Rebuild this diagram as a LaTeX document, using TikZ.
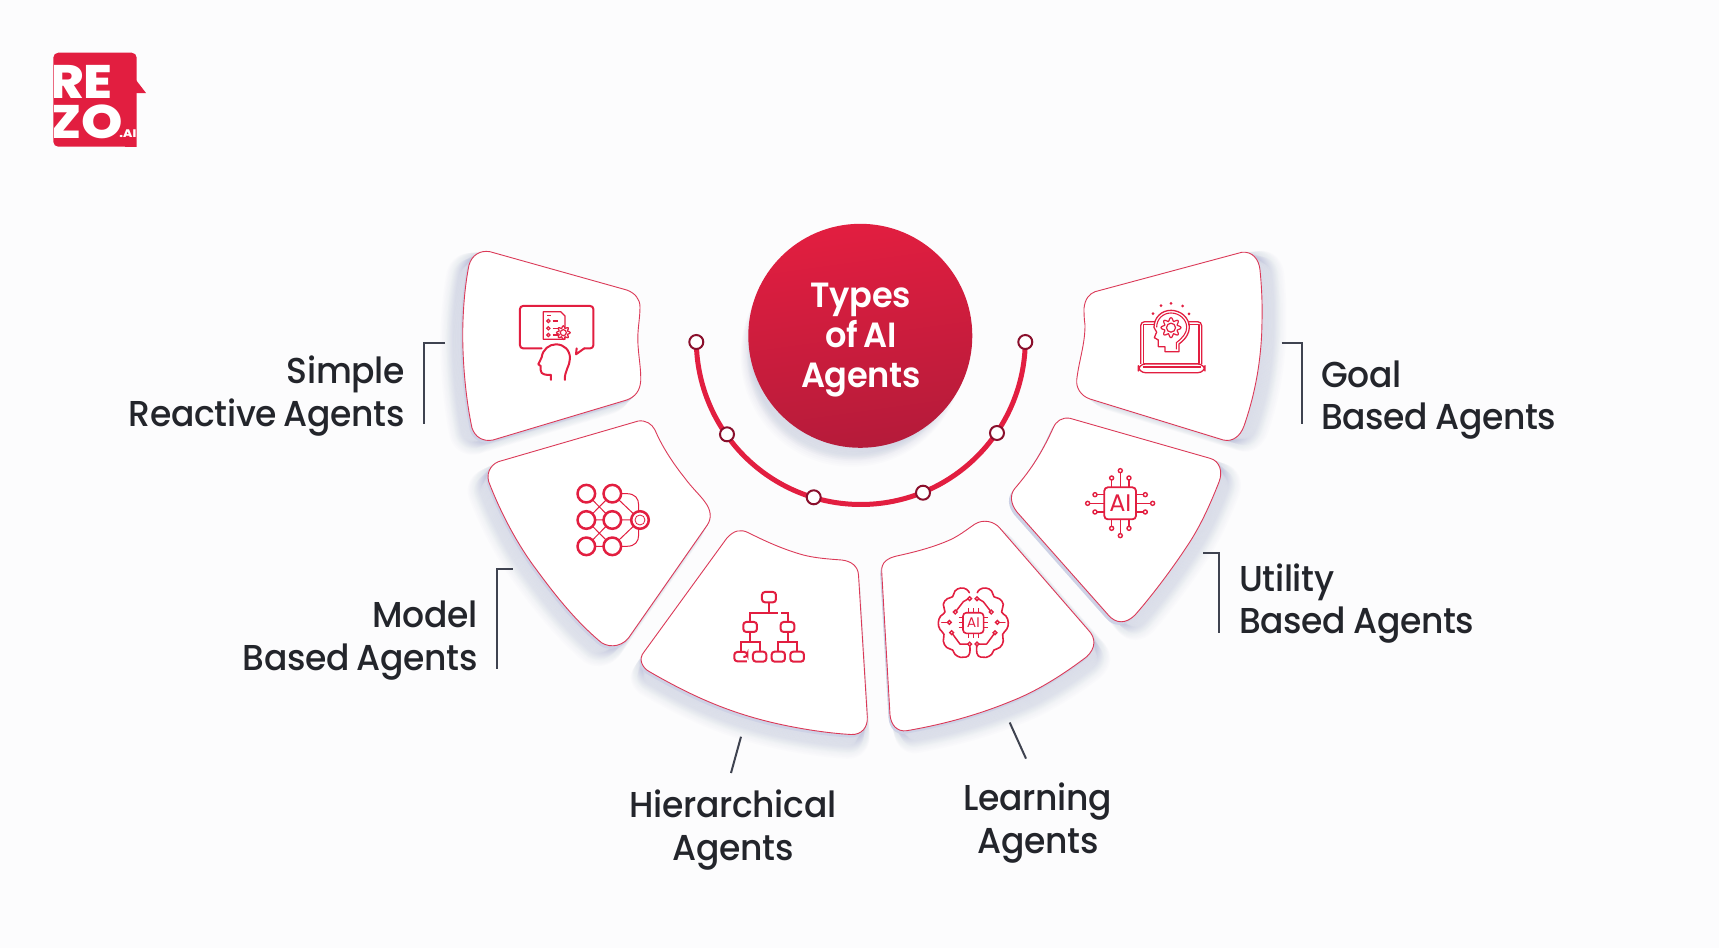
\documentclass[tikz,border=0pt]{standalone}
\usepackage{fontspec}
\setmainfont{Poppins}[UprightFont=* Medium,BoldFont=* SemiBold,FakeStretch=0.96,LetterSpace=-0.9,WordSpace=0.8]
\newfontfamily\logofont{Poppins}[UprightFont=* ExtraBold,FakeStretch=1.12]
\newfontfamily\chipfont{Poppins}
\definecolor{bgc}{HTML}{FCFCFD}
\definecolor{redc}{HTML}{E21E40}
\definecolor{hublow}{HTML}{B51B3A}
\definecolor{cardline}{HTML}{DB3A58}
\definecolor{dotline}{HTML}{8A0F2C}
\definecolor{shadowc}{HTML}{98A2C8}
\definecolor{rimc}{HTML}{CDD2E6}
\definecolor{inkc}{HTML}{23252B}
\definecolor{brc}{HTML}{3F4350}
\tikzset{
  labeltext/.style={text=inkc,font=\fontsize{36}{42.8}\selectfont,inner sep=0pt},
  bracket/.style={draw=brc,line width=2pt},
  iconline/.style={draw=redc,line width=2pt,line join=round,line cap=round},
  iconthin/.style={draw=redc,line width=1pt,line join=round},
  pin/.style={draw=redc,fill=white,line width=1.4pt},
  ringdot/.style={draw=dotline,fill=white,line width=2pt},
}
\def\cardSimple{(490,251.7) -- (626.7,290) .. controls (635,293) and (640,299) .. (640,307) .. controls (640,320) and (637,330) .. (638,345) .. controls (639,360) and (641,368) .. (640.7,381) .. controls (640,391) and (635,397) .. (626.7,400) -- (493,440) .. controls (483,442) and (475,437) .. (472,428) .. controls (466,400) and (462.7,365) .. (462.7,333) .. controls (463,308) and (465,285) .. (469,265) .. controls (472,255) and (480,250) .. (490,251.7) -- cycle}
\def\cardGoal{(1095,291.7) -- (1241.7,252.3) .. controls (1252,251) and (1259,259) .. (1260,270) .. controls (1263,300) and (1262,320) .. (1261.7,333.3) .. controls (1260,370) and (1253,400) .. (1244,426) .. controls (1240,437) and (1232,442) .. (1223.3,440) -- (1090,399) .. controls (1081,396) and (1076,388) .. (1076.7,380) .. controls (1079,360) and (1085,345) .. (1085,325) .. controls (1084,318) and (1084,313) .. (1084,308.3) .. controls (1085,299) and (1089,294) .. (1095,291.7) -- cycle}
\def\cardModel{(498.3,461.7) -- (638.3,421) .. controls (646,420) and (652,424) .. (655,430) .. controls (663,449) and (676,467) .. (684,477) .. controls (692,488) and (700,495) .. (705,502) .. controls (711,510) and (712,518) .. (707.3,525) -- (628.3,638.3) .. controls (620,648) and (606,648) .. (598.3,640) .. controls (575,620) and (555,595) .. (536.7,570) .. controls (520,548) and (503,518) .. (490,485) .. controls (485,475) and (490,465) .. (498.3,461.7) -- cycle}
\def\cardHier{(726.7,538.3) .. controls (734,530) and (741,529) .. (748.3,532.7) .. controls (765,541) and (782,549) .. (803.3,555) .. controls (815,558) and (828,559) .. (841.7,560) .. controls (851,561) and (858,566) .. (858.5,575) -- (867.3,716.7) .. controls (868,727) and (862,735) .. (851,734.5) .. controls (825,733) and (795,728) .. (770,722) .. controls (725,711) and (690,695) .. (650,672) .. controls (642,668) and (638,659) .. (644,652) -- cycle}
\def\cardLearn{(896.7,556) .. controls (915,552) and (930,548) .. (945,542) .. controls (958,537) and (966,530) .. (975,524) .. controls (983,519) and (994,521) .. (1000,528.3) -- (1088.3,630) .. controls (1096,638) and (1096,648) .. (1086.7,656.7) .. controls (1060,677) and (1035,692) .. (1010,701.7) .. controls (975,716) and (940,725) .. (906.7,730.7) .. controls (897,732) and (891,725) .. (890,715) -- (881.7,571.7) .. controls (881,562) and (888,558) .. (896.7,556) -- cycle}
\def\cardUtil{(1070,418.3) -- (1210,458.3) .. controls (1220,461) and (1223,472) .. (1219,482) .. controls (1208,510) and (1198,530) .. (1186.7,546.7) .. controls (1170,572) and (1150,598) .. (1135,615) .. controls (1126,624) and (1116,624) .. (1108.3,615) -- (1016.7,511.7) .. controls (1010,503) and (1010,494) .. (1015,488.3) .. controls (1028,473) and (1040,457) .. (1053,428.3) .. controls (1056,421) and (1062,417) .. (1070,418.3) -- cycle}
% soft shadow: layers that step away from the card in one direction and grow softer
\newcommand\softshadow[3]{\foreach \k in {1,...,14}{\begin{scope}[shift={({\k*#2/14},{\k*#3/14})}]\draw[fill=shadowc,draw=shadowc,opacity=0.022,line width={\k*0.9pt},line join=round] #1;\end{scope}}}
\newcommand\rimshadow[3]{\begin{scope}[shift={(#2,#3)}]\fill[rimc] #1;\end{scope}}
\newcommand\gearshape[5]{\draw[#5] plot[smooth cycle,samples=64,domain=0:354.375] ({#1+(#3+#4*cos(8*\x))*cos(\x)},{#2+(#3+#4*cos(8*\x))*sin(\x)});}
\begin{document}
\begin{tikzpicture}[x=1pt,y=-1pt]
\useasboundingbox (0,0) rectangle (1719,948);
\fill[bgc] (0,0) rectangle (1719,948);
% logo
\fill[redc] (136,80) -- (146,93) -- (136,93) -- cycle;
\begin{scope}
\clip[rounded corners=5pt] (53.3,146.7) -- (53.3,52.7) -- (136.7,52.7) -- (136.7,160) -- (130,160) -- (130,146.7) -- cycle;
\fill[redc] (45,45) rectangle (150,146.7);
\node[text=white,font=\logofont\fontsize{47}{47}\selectfont,inner sep=0pt,anchor=base west] (logoRE) at (49,98) {RE};
\node[text=white,font=\logofont\fontsize{47}{47}\selectfont,inner sep=0pt,anchor=base west] (logoZO) at (49,138) {ZO};
\node[text=white,font=\logofont\fontsize{11}{11}\selectfont,inner sep=0pt,anchor=base east] (logoAI) at (136.5,137) {.AI};
\end{scope}
% shadows
\softshadow{\cardSimple}{-16}{8}
\softshadow{\cardModel}{-14}{14}
\softshadow{\cardHier}{-4}{18}
\softshadow{\cardLearn}{10}{16}
\softshadow{\cardUtil}{14}{12}
\softshadow{\cardGoal}{18}{5}
\foreach \k in {1,...,14}{\begin{scope}[shift={({-\k*0.6},{\k*1.4})}]\draw[fill=shadowc,draw=shadowc,opacity=0.028,line width={\k*0.9pt}] (860.3,335.8) circle[radius=105pt];\end{scope}}
\rimshadow{\cardSimple}{-2}{2.5}
\rimshadow{\cardModel}{-1.5}{3}
\rimshadow{\cardHier}{-1.5}{3}
\rimshadow{\cardLearn}{-1.5}{3}
\rimshadow{\cardUtil}{-2.5}{3}
% cards
\foreach \c in {\cardSimple,\cardModel,\cardHier,\cardLearn,\cardUtil,\cardGoal}{\draw[cardline,fill=white,line width=0.9pt] \c;}
% arc
\draw[redc,line width=5pt] plot[smooth,domain=0:180,samples=80] ({860.8+164.5*cos(\x)},{340+164.5*sin(\x)});
\node[circle,minimum size=224pt,inner sep=0pt,top color=redc,bottom color=hublow,shading angle=8] (hub) at (860.3,335.8) {};
\node[text=white,font=\bfseries\fontsize{35}{40}\selectfont,align=center,inner sep=0pt] (hubtext) at (861,340.5) {Types\\of AI\\Agents};
\foreach \p/\q in {696.3/342,727/434.3,813.7/497.3,923/492.7,997/433,1025.3/342}{\draw[ringdot] (\p,\q) circle[radius=7pt];}
% labels
\node[labeltext,align=right,anchor=east] (lblSimple) at (405,396) {Simple\\Reactive Agents};
\node[labeltext,align=right,anchor=east] (lblModel) at (478,640.5) {Model\\Based Agents};
\node[labeltext,align=center] (lblHier) at (733,830) {Hierarchical\\Agents};
\node[labeltext,align=center] (lblLearn) at (1038,823) {Learning\\Agents};
\node[labeltext,align=left,anchor=west] (lblGoal) at (1321,400) {Goal\\Based Agents};
\node[labeltext,align=left,anchor=west] (lblUtil) at (1239,603.5) {Utility\\Based Agents};
% leader lines
\coordinate (sa) at (445,343);\coordinate (sb) at (424.3,343);\coordinate (sc) at (424.3,424.3);
\coordinate (ma) at (512.7,569.3);\coordinate (mb) at (496.7,569.3);\coordinate (mc) at (496.7,669.3);
\coordinate (ha) at (741,736.7);\coordinate (hb) at (731,773);
\coordinate (la) at (1009.7,722.5);\coordinate (lb) at (1026,758.6);
\coordinate (ua) at (1203.3,552.7);\coordinate (ub) at (1219.3,552.7);\coordinate (uc) at (1219.3,632.7);
\coordinate (ga) at (1281.6,343);\coordinate (gb) at (1302.4,343);\coordinate (gc) at (1302.4,424.3);
\draw[bracket] (sa) -- (sb) -- (sc);
\draw[bracket] (ma) -- (mb) -- (mc);
\draw[bracket] (ha) -- (hb);
\draw[bracket] (la) -- (lb);
\draw[bracket] (ua) -- (ub) -- (uc);
\draw[bracket] (ga) -- (gb) -- (gc);
% icon: simple reactive
\begin{scope}[shift={(450,240)},x=0.3333pt,y=-0.3333pt]
\draw[iconline,rounded corners=3pt] (275,325) -- (210,325) -- (210,198) -- (430,198) -- (430,325) -- (403,325);
\draw[iconline] (403,325) -- (378,343) -- (380,325);
\draw[iconline] (303,420) -- (303,405) .. controls (290,405) and (272,405) .. (272,390) -- (272,378) -- (265,373) -- (275,352) .. controls (278,328) and (298,313) .. (318,313) .. controls (342,313) and (360,330) .. (360,355) .. controls (360,378) and (342,395) .. (345,420);
\draw[redc,line width=1.3pt,line join=round,fill=white] (280,215) -- (332,215) -- (345,228) -- (345,298) -- (280,298) -- cycle;
\foreach \y in {243,265,285}{\draw[redc,line width=1.2pt] (295,\y) circle[radius=1.6pt];\draw[redc,line width=1.2pt] (308,\y) -- (323,\y);}
\draw[redc,line width=1.2pt] (292,226) -- (302,226);
\gearshape{340}{278}{17}{3.5}{fill=white,draw=redc,line width=1.2pt}
\draw[redc,line width=1.2pt] (340,278) circle[radius=3pt];
\end{scope}
% icon: goal
\begin{scope}[shift={(1060,240)},x=0.3333pt,y=-0.3333pt]
\draw[iconthin,line width=1.3pt,rounded corners=4pt] (285,245) -- (242,245) -- (242,372);
\draw[iconthin,line width=1.3pt,rounded corners=4pt] (385,245) -- (425,245) -- (425,372);
\draw[iconthin,line width=1.3pt] (285,253) -- (250,253) -- (250,370) -- (417,370) -- (417,253) -- (385,253);
\draw[iconthin,line width=1.3pt,rounded corners=7pt] (235,372) -- (435,372) -- (435,398) -- (235,398) -- cycle;
\draw[iconthin,line width=1.1pt] (248,381) -- (422,381);
\draw[iconthin,line width=1.3pt] (357,335) -- (357,312) .. controls (378,296) and (388,280) .. (388,262) .. controls (388,233) and (362,211) .. (333,211) .. controls (304,211) and (282,233) .. (282,262) .. controls (282,268) and (290,272) .. (290,276) -- (283,293) -- (295,300) -- (295,320) -- (315,320) -- (315,335) -- cycle;
\draw[iconthin,line width=1.1pt] (349,328) -- (349,308) .. controls (370,292) and (380,278) .. (380,262) .. controls (380,238) and (358,219) .. (333,219) .. controls (308,219) and (290,238) .. (290,262);
\gearshape{333}{263}{25}{5}{draw=redc,line width=1.2pt}
\draw[redc,line width=1.2pt] (333,263) circle[radius=4.5pt];
\foreach \p/\q in {279/221,303/197,333/190,368/198,387/222}{\fill[redc] (\p,\q) circle[radius=1.5pt];}
\end{scope}
% icon: model
\begin{scope}[shift={(470,410)},x=0.3333pt,y=-0.3333pt]
\draw[iconthin] (349,251) -- (427,330) (427,251) -- (349,330) (349,330) -- (427,409) (427,330) -- (349,409) (349,330) -- (427,330) (349,409) -- (427,409) (427,330) -- (510,330) (427,251) -- (510,330) (427,409) -- (510,330);
\draw[iconthin] (427,251) -- (470,251) .. controls (495,251) and (506,265) .. (506,285) -- (506,330) -- (506,375) .. controls (506,395) and (495,409) .. (470,409) -- (427,409);
\foreach \p/\q in {349/251,427/251,349/330,427/330,349/409,427/409}{\draw[redc,fill=white,line width=2.5pt] (\p,\q) circle[radius=8.8pt];}
\draw[redc,fill=white,line width=2.5pt] (510,330) circle[radius=8.8pt];
\draw[redc,line width=.8pt] (510,330) circle[radius=5pt];
\end{scope}
% icon: hierarchy
\begin{scope}[shift={(470,410)},x=0.3333pt,y=-0.3333pt]
\tikzset{hb/.style={draw=redc,line width=2pt,rounded corners=3pt}}
\draw[hb] (876,546) rectangle (918,577);
\draw[hb] (820,636) rectangle (861,666);
\draw[hb] (932,636) rectangle (973,666);
\draw[hb] (849,725) rectangle (889,755);
\draw[hb] (905,725) rectangle (945,755);
\draw[hb] (961,725) rectangle (1002,755);
\draw[hb] (820,741) -- (832,741) -- (832,726) -- (793,726) -- (793,754) -- (831,754);
\draw[redc,line width=2pt] (897,577) -- (897,608) (841,636) -- (841,608) -- (925,608) (933,608) -- (953,608) -- (953,636);
\draw[redc,line width=2pt] (841,666) -- (841,697) (813,725) -- (813,697) -- (869,697) -- (869,725);
\draw[redc,line width=2pt] (953,666) -- (953,697) (925,725) -- (925,697) -- (981,697) -- (981,725);
\end{scope}
% icon: learning
\foreach \s in {0.3333,-0.3333}{
\begin{scope}[shift={(973.3,622.7)},x=\s pt,y=-0.3333pt]
\draw[iconline,line width=1.6pt] plot[smooth,tension=.8] coordinates {(-11,64) (-11,92) (-22,103) (-38,104) (-55,95) (-62,82) (-80,74) (-90,55) (-88,35) (-100,20) (-105,0) (-98,-20) (-85,-32) (-90,-55) (-78,-72) (-62,-78) (-55,-95) (-38,-104) (-20,-100) (-12,-90)};
\draw[iconline,line width=1.5pt] (-54,-32) -- (-30,-63) -- (-18,-70);
\draw[iconline,line width=1.5pt] (-95,-1) -- (-72,-1);
\draw[iconline,line width=1.5pt] (-65,30) -- (-40,64) -- (-11,64);
\foreach \p/\q in {-11/-72,-54/-32,-72/-1,-65/30,-11/64}{\draw[pin] (\p,\q) circle[radius=1.9pt];}
\foreach \q in {-15,0,15}{\draw[redc,line width=1.2pt] (-44,\q) -- (-31,\q);}
\end{scope}}
\begin{scope}[shift={(973.3,622.7)},x=0.3333pt,y=-0.3333pt]
\foreach \q in {-15,0,15}{\draw[redc,line width=1.2pt] (\q,-44) -- (\q,-30) (\q,32) -- (\q,45);}
\draw[iconline,line width=1.6pt,rounded corners=3.5pt] (-31,-30) rectangle (31,32);
\node[text=redc,font=\chipfont\fontsize{14}{14}\selectfont,inner sep=0pt] (aiL) at (0,1) {AI};
\end{scope}
% icon: utility
\begin{scope}[shift={(860,400)},x=0.3333pt,y=-0.3333pt]
\draw[redc,line width=1.4pt] (781,212) -- (781,262) (755,234) -- (755,262) (807,234) -- (807,262) (781,407) -- (781,358) (755,385) -- (755,358) (807,385) -- (807,358) (683,310) -- (733,310) (705,284) -- (733,284) (705,336) -- (733,336) (878,310) -- (828,310) (856,284) -- (828,284) (856,336) -- (828,336);
\draw[redc,line width=1.8pt,rounded corners=3.5pt] (733,262) rectangle (828,358);
\foreach \p/\q in {781/212,755/234,807/234,781/407,755/385,807/385,683/310,705/284,705/336,878/310,856/284,856/336}{\draw[pin] (\p,\q) circle[radius=2pt];}
\node[text=redc,font=\chipfont\fontsize{24}{24}\selectfont,inner sep=0pt] (aiU) at (781,309) {AI};
\end{scope}
\end{tikzpicture}
\end{document}
